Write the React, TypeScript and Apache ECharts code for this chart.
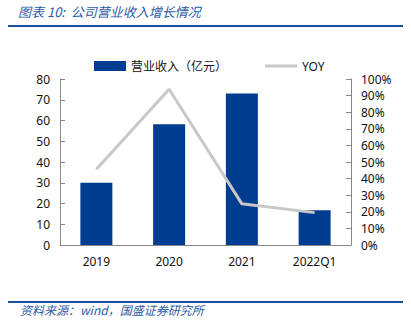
import React, { useEffect, useRef } from "react";
import * as echarts from "echarts";

const categories = ["2019", "2020", "2021", "2022Q1"];
const revenue = [30, 58.2, 73, 16.8];
const yoy = [45.6, 93.8, 24.8, 19.5];
const leftTicks = [0, 10, 20, 30, 40, 50, 60, 70, 80];
const rightTicks = [0, 10, 20, 30, 40, 50, 60, 70, 80, 90, 100];

export default function App() {
  const ref = useRef<HTMLDivElement>(null);
  useEffect(() => {
    if (!ref.current) return;
    const chart = echarts.init(ref.current, undefined, { renderer: "svg" });
    const font = "'Noto Sans', 'Noto Sans CJK SC', sans-serif";
    chart.setOption({
      animation: false,
      backgroundColor: "#ffffff",
      textStyle: { fontFamily: font },
      grid: { left: 60, right: 60, top: 79, bottom: 78 },
      legend: {
        left: 89,
        top: 55,
        itemGap: 38,
        itemWidth: 32,
        itemHeight: 10,
        textStyle: { fontSize: 12, color: "#111", fontFamily: font },
        data: [
          { name: "营业收入（亿元）", icon: "rect" },
          { name: "YOY", icon: "path://M0,0L32,0L32,3L0,3Z" },
        ],
      },
      xAxis: {
        type: "category",
        data: categories,
        axisLine: { lineStyle: { color: "#888" } },
        axisTick: { inside: true, length: 5, lineStyle: { color: "#888" } },
        axisLabel: { color: "#111", fontSize: 12, margin: 10 },
      },
      yAxis: [
        {
          type: "value",
          min: leftTicks[0],
          max: leftTicks[leftTicks.length - 1],
          interval: 10,
          splitLine: { show: false },
          axisLine: { show: true, lineStyle: { color: "#888" } },
          axisTick: { show: true, inside: true, length: 5, lineStyle: { color: "#888" } },
          axisLabel: { color: "#111", fontSize: 12, margin: 10 },
        },
        {
          type: "value",
          min: rightTicks[0],
          max: rightTicks[rightTicks.length - 1],
          interval: 10,
          splitLine: { show: false },
          axisLine: { show: true, lineStyle: { color: "#888" } },
          axisTick: { show: true, inside: true, length: 5, lineStyle: { color: "#888" } },
          axisLabel: { color: "#111", fontSize: 12, margin: 10, formatter: "{value}%" },
        },
      ],
      series: [
        {
          name: "营业收入（亿元）",
          type: "bar",
          data: revenue,
          barWidth: 32,
          itemStyle: { color: "#003d91" },
        },
        {
          name: "YOY",
          type: "line",
          yAxisIndex: 1,
          data: yoy,
          symbol: "none",
          lineStyle: { color: "#c8c8c8", width: 3 },
          itemStyle: { color: "#c8c8c8" },
        },
      ],
      graphic: [
        {
          type: "text",
          left: 18,
          top: 5,
          style: {
            text: "图表 10:  公司营业收入增长情况",
            fill: "#2a5ca8",
            font: "italic 13px 'Noto Sans CJK SC', sans-serif",
          },
        },
        {
          type: "rect",
          shape: { x: 8, y: 25, width: 395, height: 2 },
          style: { fill: "#1f4e9c" },
        },
        {
          type: "rect",
          shape: { x: 8, y: 301, width: 395, height: 2 },
          style: { fill: "#1f4e9c" },
        },
        {
          type: "text",
          left: 20,
          top: 303,
          style: {
            text: "资料来源：wind，国盛证券研究所",
            fill: "#2a5ca8",
            font: "italic 12px 'Noto Sans CJK SC', sans-serif",
          },
        },
      ],
    });
    return () => chart.dispose();
  }, []);
  return <div ref={ref} style={{ width: 411, height: 323, position: "absolute", left: 0, top: 0 }} />;
}
